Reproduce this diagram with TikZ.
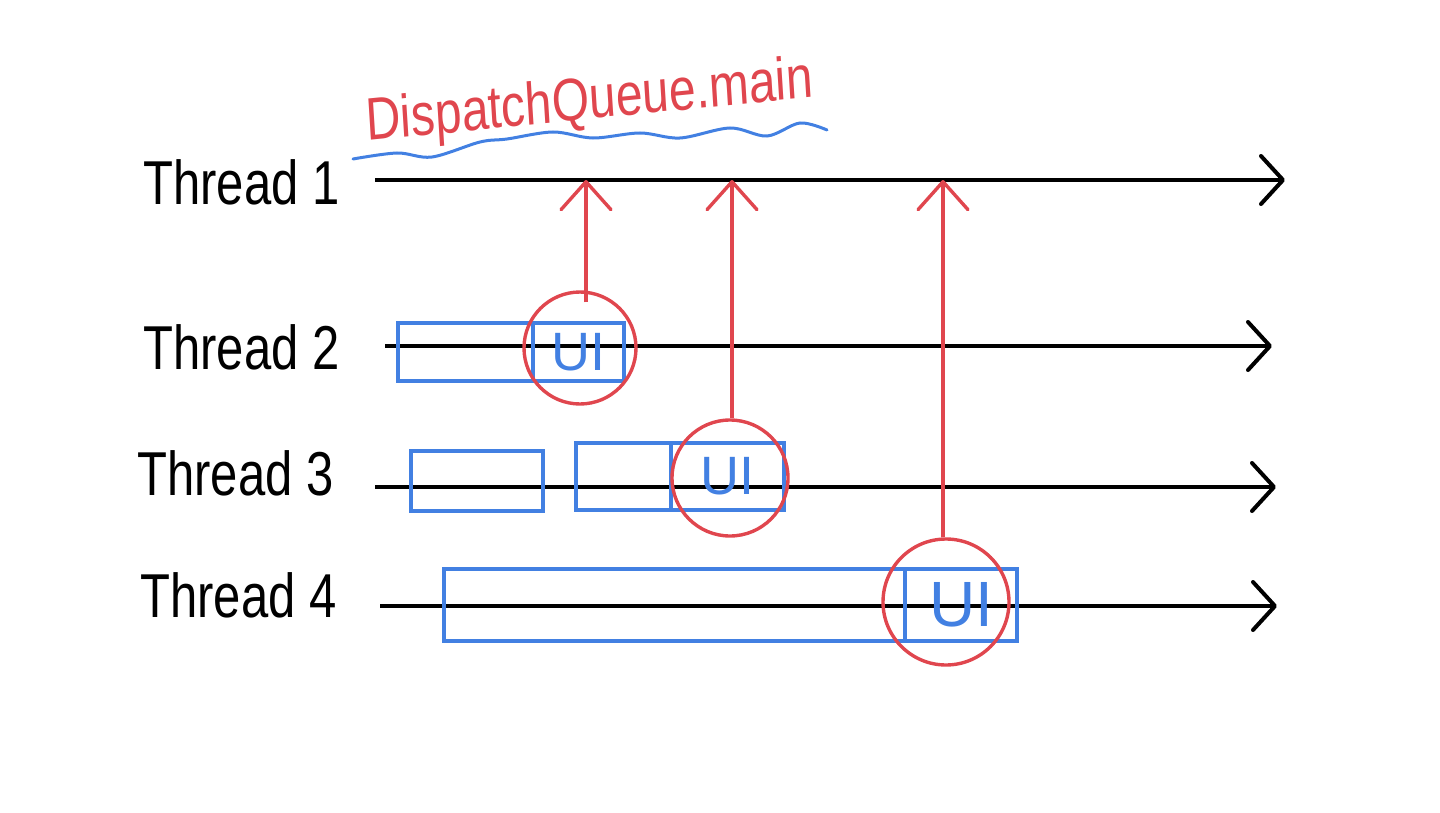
\documentclass[tikz,border=0pt]{standalone}
\usepackage{fontspec}
\setmainfont{Liberation Sans}
\usetikzlibrary{arrows.meta}
\definecolor{uired}{RGB}{224,70,78}
\definecolor{jobblue}{RGB}{66,128,226}
\newcommand{\pxu}{0.5pt}

\tikzset{
  threadlabel/.style={anchor=base west, inner sep=0pt, font=\fontsize{31}{33}\selectfont, xscale=0.79, transform shape},
  thread/.style={line width=1.6pt, -{Straight Barb[round, length=11pt, width=24pt, line width=2pt]}},
  job/.style={draw=jobblue, line width=1.8pt, inner sep=0pt, outer sep=0pt, anchor=north west},
  uitext/.style={text=jobblue, font=\fontsize{27}{29}\selectfont},
  callout/.style={circle, draw=uired, line width=1.7pt, inner sep=0pt},
  callup/.style={draw=uired, line width=1.7pt, -{Straight Barb[round, length=14pt, width=25pt, line width=1.7pt]}},
}

\begin{document}
\begin{tikzpicture}[x=0.5pt, y=-0.5pt]
          \useasboundingbox (0,0) rectangle (1440,813);
          % queue label
          \node [anchor=base west, inner sep=0pt, text=uired, font=\fontsize{30}{32}\selectfont, xscale=0.8, rotate=4.5, transform shape] (queue) at (367,141) {DispatchQueue.main};
          \draw [jobblue, line width=1.5pt, line cap=round] plot [smooth, tension=0.55] coordinates {(353,159) (397,153) (432,157) (480,142) (507,139) (553,132) (593,138) (640,133) (680,138) (730,128) (767,136) (800,123) (827,130)};
          % threads
          \node [threadlabel] (l1) at (143,205) {Thread 1};
          \node [threadlabel] (l2) at (143,369) {Thread 2};
          \node [threadlabel] (l3) at (137,495) {Thread 3};
          \node [threadlabel] (l4) at (140,617) {Thread 4};
          \coordinate (t1s) at (375,180); \coordinate (t1e) at (1285,180);
          \coordinate (t2s) at (385,346); \coordinate (t2e) at (1272,346);
          \coordinate (t3s) at (375,487); \coordinate (t3e) at (1276,487);
          \coordinate (t4s) at (380,606); \coordinate (t4e) at (1277,606);
          \draw [thread] (t1s) -- (t1e);
          \draw [thread] (t2s) -- (t2e);
          \draw [thread] (t3s) -- (t3e);
          \draw [thread] (t4s) -- (t4e);
          % work blocks
          \node [job, minimum width=135*\pxu, minimum height=58*\pxu] (w2a) at (398,323) {};
          \node [job, uitext, minimum width=91*\pxu, minimum height=58*\pxu] (w2b) at (w2a.north east) {UI};
          \node [job, minimum width=132*\pxu, minimum height=60*\pxu] (w3a) at (411,451) {};
          \node [job, minimum width=95*\pxu, minimum height=67*\pxu] (w3b) at (576,443) {};
          \node [job, uitext, minimum width=113*\pxu, minimum height=67*\pxu] (w3c) at (w3b.north east) {UI};
          \node [job, minimum width=461*\pxu, minimum height=72*\pxu] (w4a) at (444,569) {};
          \node [job, uitext, font=\fontsize{32}{34}\selectfont, minimum width=112*\pxu, minimum height=72*\pxu] (w4b) at (w4a.north east) {UI};
          % hand-offs to the main thread
          \node [callout, minimum size=112*\pxu] (c2) at (580,348) {};
          \node [callout, minimum size=116*\pxu] (c3) at (730,478) {};
          \node [callout, minimum size=126*\pxu] (c4) at (946,602) {};
          \coordinate (a2) at ([shift={(6,12)}]c2.north);
          \coordinate (a3) at ([shift={(2,0)}]c3.north);
          \coordinate (a4) at ([shift={(-3,0)}]c4.north);
          \draw [callup] (a2) -- (a2 |- t1s);
          \draw [callup] (a3) -- (a3 |- t1s);
          \draw [callup] (a4) -- (a4 |- t1s);
        \end{tikzpicture}
\end{document}
